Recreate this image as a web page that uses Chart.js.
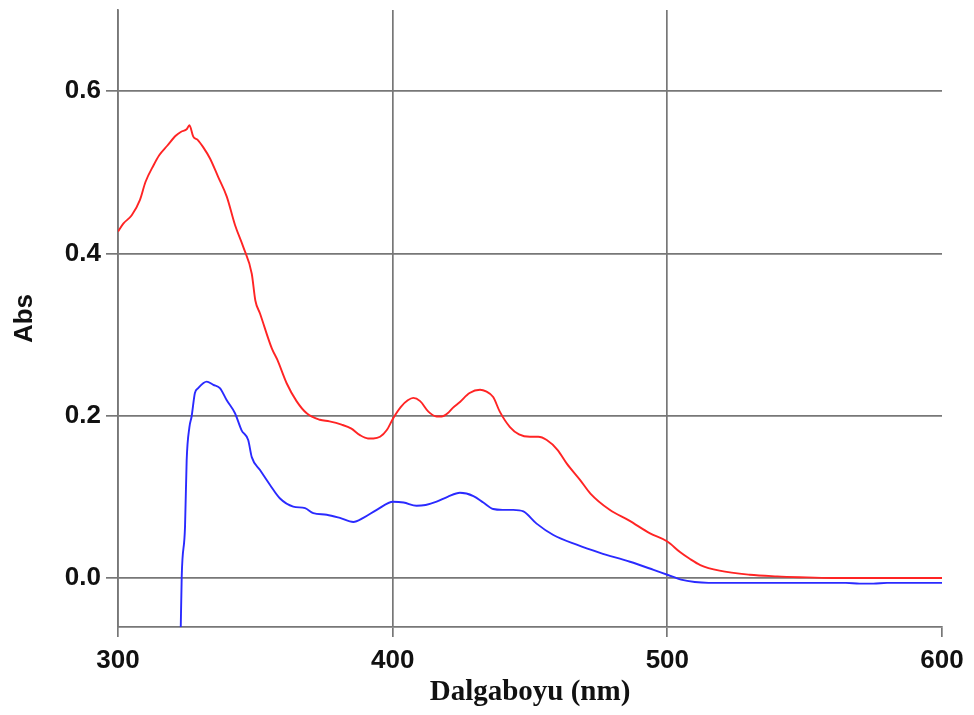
<!DOCTYPE html>
<html>
<head>
<meta charset="utf-8">
<script src="https://cdn.jsdelivr.net/npm/chart.js@4/dist/chart.umd.min.js"></script>
<style>
  html, body { margin: 0; padding: 0; background: #fff; }
  #wrap { width: 974px; height: 715px; }
</style>
</head>
<body>
<div id="wrap"><canvas id="c" width="974" height="715"></canvas></div>
<script>
// ---- data ----
const wlRed = [300,302,305,308,310,313,315,318,321,323,325,326,327.4,329,331,333.5,336.5,339.6,342.6,345.6,348.7,350,351.7,356,358,361.4,365,368.7,373.5,377,381.4,385,388.1,391,393,395.4,397.8,400.2,403,405.5,407.5,410,413,416,417.8,420,422,424.5,428,431.8,434,436.6,439,442.7,446,450,453,456.1,460,463.4,468.2,472,479,486,493.7,500,504.6,508,512,519,530,540,548,560,575,585,600];
const absRed = [0.427,0.437,0.447,0.466,0.488,0.509,0.521,0.533,0.545,0.550,0.553,0.558,0.544,0.540,0.531,0.517,0.494,0.470,0.435,0.408,0.375,0.342,0.326,0.283,0.269,0.240,0.218,0.203,0.195,0.193,0.189,0.184,0.176,0.172,0.172,0.174,0.182,0.197,0.211,0.219,0.222,0.218,0.205,0.199,0.199,0.203,0.210,0.217,0.228,0.232,0.230,0.223,0.205,0.186,0.177,0.174,0.174,0.170,0.158,0.141,0.121,0.104,0.084,0.071,0.055,0.045,0.032,0.024,0.016,0.009,0.004,0.002,0.001,0.0,0.0,0.0,0.0];

const wlBlue = [322.8,323.2,324.4,325,326,326.8,328,329.2,332.3,334.7,337.1,339.6,342.6,345,347.4,348.7,351.7,355.3,359,363.8,368.1,371.1,376,380.8,385.7,389.3,394.2,400.2,404,408.7,412,416,420,424.5,429.4,433,436.6,440,443.9,447.6,452.4,458.5,467,475.5,486.4,495,500,505,510,515,530,550,565,570,575,580,600];
const absBlue = [-0.07,0.002,0.063,0.145,0.186,0.199,0.228,0.234,0.242,0.238,0.234,0.219,0.203,0.182,0.170,0.149,0.133,0.115,0.098,0.088,0.086,0.080,0.078,0.074,0.069,0.074,0.084,0.094,0.093,0.089,0.090,0.094,0.100,0.105,0.101,0.093,0.085,0.084,0.084,0.082,0.067,0.053,0.041,0.031,0.020,0.010,0.004,-0.002,-0.005,-0.006,-0.006,-0.006,-0.006,-0.007,-0.007,-0.006,-0.006];

const xTicks = [300, 400, 500, 600];
const yTicks = [0, 0.2, 0.4, 0.6];
const xTitle = 'Dalgaboyu (nm)';
const yTitle = 'Abs';

const toPts = (xs, ys) => xs.map((x, i) => ({x: x, y: ys[i]}));
const GRID = '#777777';

new Chart(document.getElementById('c'), {
  type: 'line',
  data: {
    datasets: [
      { data: toPts(wlRed, absRed), borderColor: '#ff2424', borderWidth: 1.9, pointRadius: 0, cubicInterpolationMode: 'monotone', fill: false },
      { data: toPts(wlBlue, absBlue), borderColor: '#2a2aff', borderWidth: 1.9, pointRadius: 0, cubicInterpolationMode: 'monotone', fill: false }
    ]
  },
  options: {
    responsive: false,
    animation: false,
    layout: { padding: { top: 10, right: 32, left: 0, bottom: 0 } },
    plugins: { legend: { display: false }, tooltip: { enabled: false } },
    scales: {
      x: {
        type: 'linear', min: 300, max: 600,
        afterBuildTicks: s => { s.ticks = xTicks.map(v => ({value: v})); },
        afterFit: s => { s.height = 88; s.paddingLeft = 0; s.paddingRight = 0; },
        grid: {
          color: c => (c.tick && c.tick.value === 600) ? 'rgba(0,0,0,0)' : GRID,
          tickColor: GRID, lineWidth: 1.7, tickLength: 10
        },
        border: { display: true, color: GRID, width: 1.7 },
        ticks: { color: '#111', padding: 8, maxRotation: 0, font: { family: 'Liberation Sans', weight: 'bold', size: 26 } },
        title: { display: true, text: xTitle, color: '#111', padding: { top: 0, bottom: 5 },
                 font: { family: 'Liberation Serif', weight: 'bold', size: 29, lineHeight: 1.2 } }
      },
      y: {
        type: 'linear', min: -0.0604, max: 0.7,
        afterBuildTicks: s => { s.ticks = yTicks.map(v => ({value: v})); },
        afterFit: s => { s.width = 118; s.paddingTop = 0; s.paddingBottom = 0; },
        grid: { color: GRID, tickColor: GRID, lineWidth: 1.7, tickLength: 12 },
        border: { display: true, color: GRID, width: 1.7 },
        ticks: { color: '#111', padding: 5, callback: v => v.toFixed(1), font: { family: 'Liberation Sans', weight: 'bold', size: 26 } },
        title: { display: true, text: yTitle, color: '#111', padding: { top: 9, bottom: 0 },
                 font: { family: 'Liberation Sans', weight: 'bold', size: 26, lineHeight: 1.2 } }
      }
    }
  }
});
</script>
</body>
</html>
